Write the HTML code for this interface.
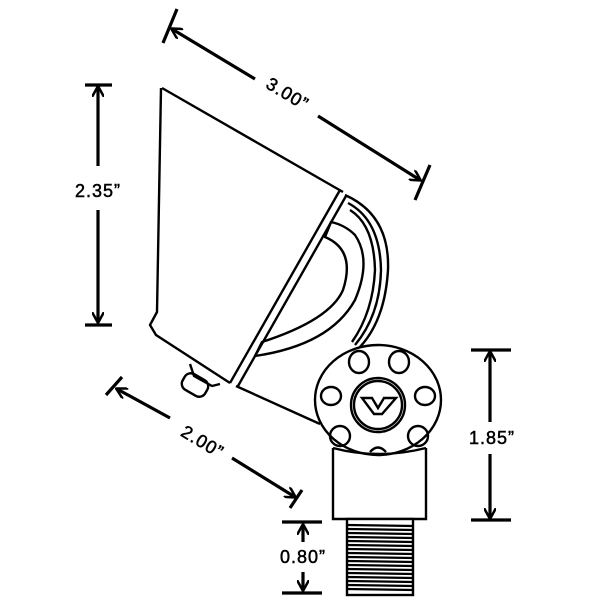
<!DOCTYPE html>
<html><head><style>body{margin:0;background:#fff}svg{display:block}</style></head><body>
<svg width="600" height="600" viewBox="0 0 600 600" xmlns="http://www.w3.org/2000/svg" font-family="'Liberation Sans',sans-serif">
<defs>
<marker id="ah" markerWidth="12" markerHeight="12" refX="10" refY="6" orient="auto" markerUnits="userSpaceOnUse"><path d="M0,0 L11,6 L0,12" fill="none" stroke="#000" stroke-width="2.5"/></marker>
</defs>
<g fill="none" stroke="#000" stroke-width="2.4" stroke-linejoin="round">
<path d="M162,88 L343,192"/>
<path d="M161,88 L157,312 L150,325 L156,335 L230,383"/>
<path d="M340,190 L230,383"/>
<path d="M346,196 L238,386"/>
<path d="M345,195 Q390,215 388,270 Q385,320 360,347"/>
<path d="M348,203 Q380,220 381,270 Q380,315 355,345"/>
<path d="M350,210 Q374,225 375,270 Q373,312 352,342"/>
<path d="M331,222 L325,237 Q356,250 343,290 Q330,320 262,342 L255,356 Q330,345 355,300 Q372,260 355,235 Q345,225 331,222Z"/>
<path d="M236,386 L320,424"/>
<path d="M190,364 L194,376 L212,386 L220,384"/>
<rect x="182" y="376" width="26" height="18" rx="7" transform="rotate(30 195 385)"/>
<ellipse cx="378" cy="400" rx="63" ry="55" fill="#fff"/>
<circle cx="378" cy="405" r="27"/>
<circle cx="378" cy="405" r="24"/>
<ellipse cx="359" cy="362" rx="10" ry="11"/>
<ellipse cx="399" cy="362" rx="10" ry="11"/>
<ellipse cx="331" cy="396" rx="10" ry="9"/>
<ellipse cx="425" cy="396" rx="10" ry="9"/>
<ellipse cx="340" cy="436" rx="10" ry="10"/>
<ellipse cx="418" cy="436" rx="10" ry="10"/>
<path d="M370,452 Q378,443 386,452"/>
</g>
<path d="M362,398 L372,398 L378,408 L384,398 L396,398 L382,414 L374,414Z" fill="none" stroke="#000" stroke-width="2.4"/>
<path d="M333,448 L333,519 L426,519 L426,448" fill="none" stroke="#000" stroke-width="2.4"/>
<path d="M333,448 Q378,460 426,448" fill="none" stroke="#000" stroke-width="2.4"/>
<rect x="347" y="519" width="66" height="76" fill="#fff" stroke="#000" stroke-width="2.4"/>
<g stroke="#000" stroke-width="2.2">
<line x1="347" y1="525" x2="413" y2="526"/><line x1="347" y1="529" x2="413" y2="530"/><line x1="347" y1="533" x2="413" y2="534"/><line x1="347" y1="537" x2="413" y2="538"/><line x1="347" y1="541" x2="413" y2="542"/><line x1="347" y1="545" x2="413" y2="546"/><line x1="347" y1="549" x2="413" y2="550"/><line x1="347" y1="553" x2="413" y2="554"/><line x1="347" y1="557" x2="413" y2="558"/><line x1="347" y1="561" x2="413" y2="562"/><line x1="347" y1="565" x2="413" y2="566"/><line x1="347" y1="569" x2="413" y2="570"/><line x1="347" y1="573" x2="413" y2="574"/><line x1="347" y1="577" x2="413" y2="578"/><line x1="347" y1="581" x2="413" y2="582"/><line x1="347" y1="585" x2="413" y2="586"/><line x1="347" y1="589" x2="413" y2="590"/>
</g>
<g stroke="#000" stroke-width="3.2" fill="none">
<line x1="163" y1="43" x2="177" y2="9"/>
<line x1="415" y1="200" x2="430" y2="165"/>
<line x1="255" y1="79" x2="172" y2="29" marker-end="url(#ah)"/>
<line x1="318" y1="116" x2="420" y2="180" marker-end="url(#ah)"/>
<line x1="85" y1="85" x2="112" y2="85"/>
<line x1="85" y1="325" x2="112" y2="325"/>
<line x1="98" y1="166" x2="98" y2="87" marker-end="url(#ah)"/>
<line x1="98" y1="210" x2="98" y2="322" marker-end="url(#ah)"/>
<line x1="106" y1="395" x2="122" y2="377"/>
<line x1="290" y1="508" x2="302" y2="490"/>
<line x1="170" y1="418" x2="117" y2="389" marker-end="url(#ah)"/>
<line x1="232" y1="458" x2="295" y2="497" marker-end="url(#ah)"/>
<line x1="471" y1="350" x2="511" y2="350"/>
<line x1="471" y1="520" x2="511" y2="520"/>
<line x1="490" y1="422" x2="490" y2="352" marker-end="url(#ah)"/>
<line x1="490" y1="454" x2="490" y2="518" marker-end="url(#ah)"/>
<line x1="282" y1="522" x2="322" y2="522"/>
<line x1="282" y1="593" x2="322" y2="593"/>
<line x1="303" y1="542" x2="303" y2="525" marker-end="url(#ah)"/>
<line x1="303" y1="572" x2="303" y2="590" marker-end="url(#ah)"/>
</g>
<g font-size="18" fill="#000" stroke="#000" stroke-width="0.5" text-anchor="middle" letter-spacing="1">
<text x="288" y="100" transform="rotate(31 288 93)">3.00”</text>
<text x="98" y="197">2.35”</text>
<text x="203" y="448" transform="rotate(31 203 441)">2.00”</text>
<text x="492" y="444">1.85”</text>
<text x="303" y="563">0.80”</text>
</g>
</svg>
</body></html>
